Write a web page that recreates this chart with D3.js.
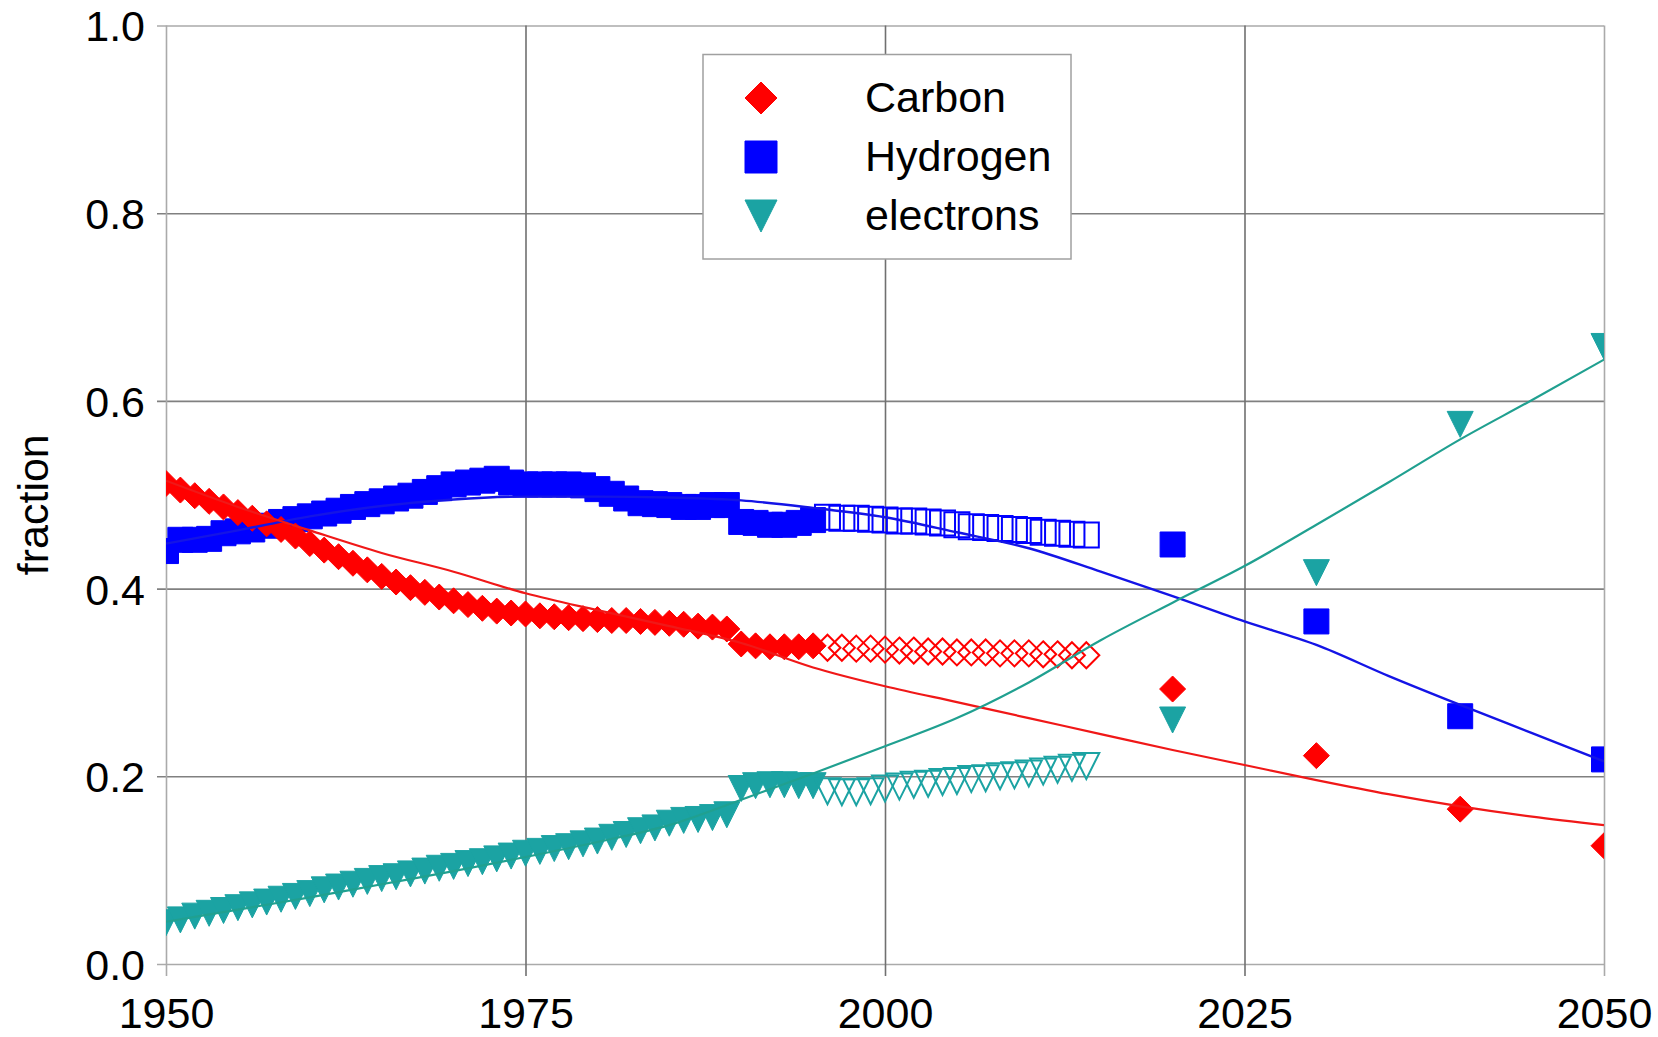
<!DOCTYPE html>
<html>
<head>
<meta charset="utf-8">
<script src="https://cdn.jsdelivr.net/npm/d3@7/dist/d3.min.js"></script>
<style>
  body { margin: 0; background: #fff; }
  text { font-family: "Liberation Sans", Arial, sans-serif; fill: #000; }
</style>
</head>
<body>
<svg id="chart" width="1658" height="1037"></svg>
<script>
// annual values, 1950..2014 (filled up to 1995, open from 1996)
const startYear = 1950;
const openFrom = 1996;
const carbonHist = [
  .512, .505, .499, .493, .487, .481, .475, .469, .463, .456,
  .448, .441, .434, .427, .420, .413, .407, .401, .396, .391,
  .387, .383, .379, .376, .374, .373, .371, .370, .369, .368,
  .367, .366, .366, .365, .364, .363, .362, .360, .359, .357,
  .341, .339, .338, .338, .338, .339, .337, .337, .336, .336,
  .335, .334, .334, .333, .333, .332, .332, .332, .331, .331,
  .331, .330, .330, .329, .329
];
const hydrogenHist = [
  .440, .452, .452, .453, .459, .461, .463, .467, .471, .474,
  .477, .480, .483, .487, .490, .493, .496, .499, .503, .507,
  .511, .513, .515, .517, .513, .511, .511, .511, .511, .510,
  .506, .501, .496, .491, .490, .489, .487, .487, .489, .489,
  .471, .470, .468, .468, .470, .473, .476, .475, .475, .474,
  .473, .472, .472, .471, .470, .468, .466, .465, .464, .463,
  .462, .460, .459, .458, .457
];
const electronsHist = [
  .044, .047, .051, .054, .057, .060, .063, .066, .069, .072,
  .075, .079, .082, .085, .088, .091, .093, .096, .099, .102,
  .104, .107, .109, .112, .115, .118, .120, .123, .125, .128,
  .131, .135, .138, .142, .145, .150, .153, .154, .156, .159,
  .187, .190, .191, .191, .190, .190, .184, .183, .183, .184,
  .187, .189, .191, .192, .194, .195, .197, .198, .200, .201,
  .203, .205, .207, .209, .211
];

// projections
const projYears = [2020, 2030, 2040, 2050];
const carbonProj = [.293, .222, .165, .126];
const hydrogenProj = [.447, .365, .264, .218];
const electronsProj = [.260, .417, .575, .658];

// fitted trend curves
const trendYears = [1950, 1955, 1960, 1965, 1970, 1975, 1980, 1985, 1990, 1995, 2000,
                    2005, 2010, 2015, 2020, 2025, 2030, 2035, 2040, 2045, 2050];
const carbonTrend = [.515, .487, .462, .438, .418, .395, .377, .360, .342, .316, .296,
                     .279, .262, .245, .228, .212, .196, .181, .168, .157, .148];
const hydrogenTrend = [.448, .462, .477, .488, .495, .498, .498, .497, .494, .486, .476,
                       .460, .443, .418, .392, .365, .340, .307, .276, .246, .216];
const electronsTrend = [.045, .058, .071, .085, .099, .114, .130, .148, .175, .203, .232,
                        .262, .300, .345, .385, .424, .468, .513, .559, .601, .644];

const xTicks = [1950, 1975, 2000, 2025, 2050];
const yTicks = [0, 0.2, 0.4, 0.6, 0.8, 1.0];
const seriesNames = ['Carbon', 'Hydrogen', 'electrons'];

const LEFT = 166, RIGHT = 1604, TOP = 25.5, BOTTOM = 964;
const x = d3.scaleLinear().domain([1950, 2050]).range([LEFT, RIGHT]);
const y = d3.scaleLinear().domain([0, 1]).range([BOTTOM, TOP]);

const svg = d3.select('#chart');

// markers
function diamond(s) { const h = s / 2; return `M0,${-h}L${h},0L0,${h}L${-h},0Z`; }
function square(s) { const h = s / 2; return `M${-h},${-h}H${h}V${h}H${-h}Z`; }
function triDown(s) { const h = s / 2; return `M${-h},${-h}H${h}L0,${h}Z`; }

const series = [
  { name: 'Hydrogen', hist: hydrogenHist, proj: hydrogenProj, trend: hydrogenTrend,
    shape: square, size: 25, color: '#0000ff', line: '#1414e6', lw: 2.4 },
  { name: 'Carbon', hist: carbonHist, proj: carbonProj, trend: carbonTrend,
    shape: diamond, size: 26, color: '#ff0000', line: '#f01818', lw: 2.2 },
  { name: 'electrons', hist: electronsHist, proj: electronsProj, trend: electronsTrend,
    shape: triDown, size: 26, color: '#1ba3a3', line: '#20a090', lw: 2.2 }
];

// grid + axes
const yAxis = d3.axisLeft(y).tickValues(yTicks).tickFormat(d3.format('.1f'))
  .tickSizeInner(-(RIGHT - LEFT)).tickSizeOuter(0).tickPadding(21);
const gy = svg.append('g').attr('transform', `translate(${LEFT},0)`).call(yAxis);
gy.select('.domain').remove();
gy.selectAll('.tick line')
  .attr('x1', -9)
  .attr('stroke', d => (d === 0 || d === 1) ? '#aaaaaa' : '#808080')
  .attr('stroke-width', 1.6);
gy.selectAll('.tick text').style('font-size', '43px').attr('dy', '0.36em');

const xAxis = d3.axisBottom(x).tickValues(xTicks).tickFormat(d3.format('d'))
  .tickSizeInner(-(BOTTOM - TOP)).tickSizeOuter(0).tickPadding(33);
const gx = svg.append('g').attr('transform', `translate(0,${BOTTOM})`).call(xAxis);
gx.select('.domain').remove();
gx.selectAll('.tick line')
  .attr('y1', 12)
  .attr('stroke', d => (d === 1950 || d === 2050) ? '#aaaaaa' : '#707070')
  .attr('stroke-width', 1.6);
gx.selectAll('.tick text').style('font-size', '43px');

svg.append('text')
  .attr('transform', `translate(48,${(TOP + BOTTOM) / 2 + 10}) rotate(-90)`)
  .attr('text-anchor', 'middle')
  .style('font-size', '43px')
  .text('fraction');

// plot area clip
svg.append('clipPath').attr('id', 'plotclip')
  .append('rect').attr('x', LEFT).attr('y', TOP)
  .attr('width', RIGHT - LEFT).attr('height', BOTTOM - TOP);
const plot = svg.append('g').attr('clip-path', 'url(#plotclip)');

series.forEach(s => {
  const g = plot.append('g');
  const hist = s.hist.map((v, i) => ({ year: startYear + i, v }));
  g.selectAll('path.hist').data(hist).enter().append('path')
    .attr('transform', d => `translate(${x(d.year)},${y(d.v)})`)
    .attr('d', s.shape(s.size))
    .attr('fill', d => d.year >= openFrom ? 'none' : s.color)
    .attr('stroke', s.color)
    .attr('stroke-width', d => d.year >= openFrom ? 2 : 1)
    .attr('stroke-linejoin', 'miter');
  g.selectAll('path.proj').data(projYears.map((yr, i) => ({ year: yr, v: s.proj[i] })))
    .enter().append('path')
    .attr('transform', d => `translate(${x(d.year)},${y(d.v)})`)
    .attr('d', s.shape(s.size))
    .attr('fill', s.color)
    .attr('stroke', s.color);
});

const line = d3.line().x(d => x(d.year)).y(d => y(d.v)).curve(d3.curveMonotoneX);
series.forEach(s => {
  plot.append('path')
    .datum(trendYears.map((yr, i) => ({ year: yr, v: s.trend[i] })))
    .attr('d', line)
    .attr('fill', 'none')
    .attr('stroke', s.line)
    .attr('stroke-width', s.lw);
});

// legend
const lg = svg.append('g');
lg.append('rect').attr('x', 703).attr('y', 54.5).attr('width', 368).attr('height', 204.5)
  .attr('fill', '#fff').attr('stroke', '#a0a0a0').attr('stroke-width', 1.5);
const legendItems = [
  { name: seriesNames[0], shape: diamond, color: '#ff0000', cy: 98 },
  { name: seriesNames[1], shape: square, color: '#0000ff', cy: 157 },
  { name: seriesNames[2], shape: triDown, color: '#1ba3a3', cy: 216 }
];
legendItems.forEach(it => {
  lg.append('path').attr('transform', `translate(761,${it.cy})`)
    .attr('d', it.shape(32)).attr('fill', it.color).attr('stroke', it.color);
  lg.append('text').attr('x', 865).attr('y', it.cy + 14)
    .style('font-size', '43px').text(it.name);
});
</script>
</body>
</html>
